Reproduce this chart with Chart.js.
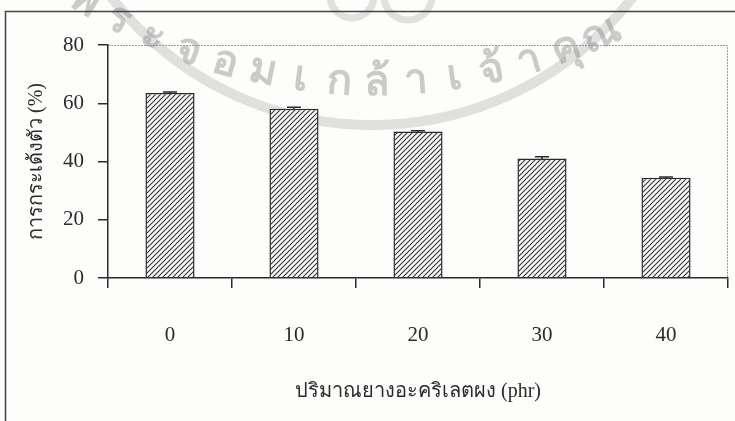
<!DOCTYPE html>
<html lang="th">
<head>
<meta charset="UTF-8">
<title>การกระเด้งตัว</title>
<script src="https://cdn.jsdelivr.net/npm/chart.js"></script>
<style>
    html, body { margin: 0; padding: 0; background: #fdfdfc; }
    #wrap { width: 735px; height: 421px; }
</style>
</head>
<body>
<div id="wrap"><canvas id="resilienceChart" width="735" height="421"></canvas></div>
<script>
    const categories = ['0', '10', '20', '30', '40'];
    const resilience = [63.5, 58.1, 50.3, 41.0, 34.4];
    const errors = [0.4, 0.5, 0.3, 0.6, 0.3];
    const yTicks = [0, 20, 40, 60, 80];
    const xTitle = 'ปริมาณยางอะคริเลตผง (phr)';
    const yTitle = 'การกระเด้งตัว (%)';
    const watermark = 'พระจอมเกล้าเจ้าคุณ';

    const ink = '#2b2b2b';
    const serif = "'Liberation Serif', 'DejaVu Serif', serif";

    // hatch "////"
    function hatch() {
        const c = document.createElement('canvas');
        c.width = 5; c.height = 5;
        const g = c.getContext('2d');
        g.fillStyle = '#fbfbfb';
        g.fillRect(0, 0, 5, 5);
        g.strokeStyle = '#333';
        g.lineWidth = 1.1;
        g.beginPath();
        g.moveTo(-1, 6); g.lineTo(6, -1);
        g.moveTo(-1, 1); g.lineTo(1, -1);
        g.moveTo(4, 6); g.lineTo(6, 4);
        g.stroke();
        return g.createPattern(c, 'repeat');
    }

    function arcText(ctx, text, cx, cy, r, a0, a1) {
        const parts = [...new Intl.Segmenter('th', { granularity: 'grapheme' }).segment(text)].map(s => s.segment);
        const step = (a1 - a0) / (parts.length - 1);
        parts.forEach((p, i) => {
            const t = a0 + step * i;
            ctx.save();
            ctx.translate(cx + r * Math.sin(t), cy + r * Math.cos(t));
            ctx.rotate(-t);
            ctx.fillText(p, 0, 0);
            ctx.restore();
        });
    }

    const backdrop = {
        id: 'backdrop',
        beforeDraw(chart) {
            const ctx = chart.ctx;
            const a = chart.chartArea;
            ctx.save();
            // watermark
            ctx.strokeStyle = 'rgba(170,170,170,0.35)';
            ctx.lineWidth = 10;
            ctx.beginPath();
            ctx.arc(372, -205, 330, 0, Math.PI);
            ctx.stroke();
            ctx.lineWidth = 7;
            ctx.beginPath();
            ctx.arc(352, -4, 22, 0, Math.PI);
            ctx.stroke();
            ctx.beginPath();
            ctx.arc(408, -4, 24, 0, Math.PI);
            ctx.stroke();
            ctx.fillStyle = 'rgba(140,140,140,0.45)';
            ctx.font = "bold 42px 'Noto Sans', sans-serif";
            ctx.textAlign = 'center';
            ctx.textBaseline = 'alphabetic';
            arcText(ctx, watermark, 375, -472, 567, -0.55, 0.42);

            // page frame
            ctx.strokeStyle = '#444';
            ctx.lineWidth = 1.5;
            ctx.beginPath();
            ctx.moveTo(5.5, 430);
            ctx.lineTo(5.5, 11.5);
            ctx.lineTo(740, 11.5);
            ctx.stroke();

            // dotted plot border top and right
            ctx.strokeStyle = '#9a9a9a';
            ctx.lineWidth = 1;
            ctx.setLineDash([2, 1]);
            ctx.beginPath();
            ctx.moveTo(a.left, a.top + 0.5);
            ctx.lineTo(a.right - 0.5, a.top + 0.5);
            ctx.lineTo(a.right - 0.5, a.bottom);
            ctx.stroke();
            ctx.restore();
        },
        afterDatasetsDraw(chart) {
            const ctx = chart.ctx;
            const y = chart.scales.y;
            const meta = chart.getDatasetMeta(0);
            ctx.save();
            ctx.strokeStyle = ink;
            ctx.lineWidth = 1.5;
            meta.data.forEach((bar, i) => {
                const hi = y.getPixelForValue(resilience[i] + errors[i]);
                const lo = y.getPixelForValue(resilience[i] - errors[i]);
                ctx.beginPath();
                ctx.moveTo(bar.x, lo);
                ctx.lineTo(bar.x, hi);
                ctx.moveTo(bar.x - 7, hi);
                ctx.lineTo(bar.x + 7, hi);
                ctx.stroke();
            });
            ctx.restore();
        }
    };

    new Chart(document.getElementById('resilienceChart'), {
        type: 'bar',
        data: {
            labels: categories,
            datasets: [{
                data: resilience,
                backgroundColor: hatch(),
                borderColor: ink,
                borderWidth: 1.5,
                borderSkipped: 'bottom',
                barPercentage: 0.8,
                categoryPercentage: 0.495
            }]
        },
        options: {
            responsive: false,
            animation: false,
            layout: { padding: { top: 45, right: 7, left: 0, bottom: 0 } },
            plugins: { legend: { display: false }, tooltip: { enabled: false } },
            scales: {
                x: {
                    afterFit: s => { s.height = 143; },
                    grid: { offset: true, drawOnChartArea: false, tickLength: 10, color: ink, lineWidth: 1.5 },
                    border: { color: ink, width: 1.5 },
                    ticks: { color: ink, padding: 35, font: { family: serif, size: 21 } },
                    title: {
                        display: true, text: xTitle, color: ink,
                        font: { family: serif, size: 20 }, padding: { top: 0, bottom: 17 }
                    }
                },
                y: {
                    min: 0, max: 80,
                    afterFit: s => { s.width = 108; },
                    afterBuildTicks: s => { s.ticks = yTicks.map(v => ({ value: v })); },
                    grid: { drawOnChartArea: false, tickLength: 10, color: ink, lineWidth: 1.5 },
                    border: { color: ink, width: 1.5 },
                    ticks: { color: ink, padding: 14, font: { family: serif, size: 21 } },
                    title: {
                        display: true, text: yTitle, color: ink,
                        font: { family: serif, size: 20 }, padding: { top: 25, bottom: 0 }
                    }
                }
            }
        },
        plugins: [backdrop]
    });
</script>
</body>
</html>
